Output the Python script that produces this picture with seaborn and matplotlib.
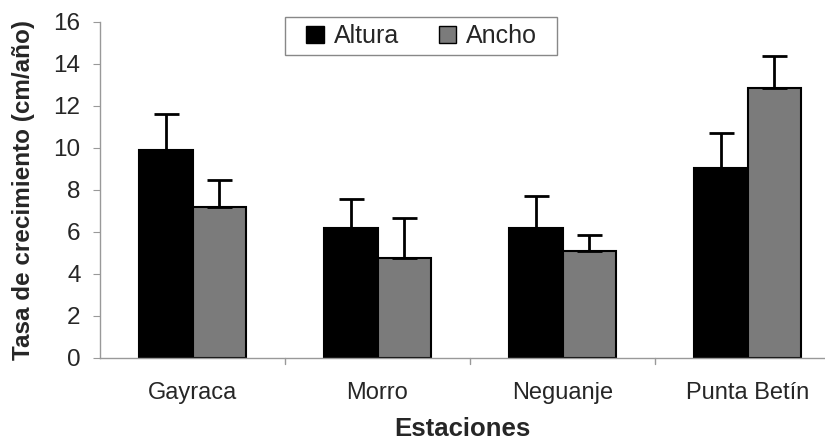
import matplotlib
matplotlib.use("Agg")
import matplotlib.pyplot as plt
import seaborn as sns
import pandas as pd
from matplotlib.patches import Patch, Rectangle

estaciones = ["Gayraca", "Morro", "Neguanje", "Punta Betín"]
altura = [9.9, 6.2, 6.2, 9.05]
altura_err = [1.7, 1.35, 1.5, 1.65]
ancho = [7.2, 4.75, 5.1, 12.85]
ancho_err = [1.25, 1.9, 0.75, 1.5]
series = ["Altura", "Ancho"]
colores = ["#000000", "#7b7b7b"]

df = pd.DataFrame({
    "Estaciones": estaciones * 2,
    "Serie": ["Altura"] * 4 + ["Ancho"] * 4,
    "Tasa": altura + ancho,
})
errs = {"Altura": altura_err, "Ancho": ancho_err}

sns.set_style("white")
plt.rcParams["font.family"] = ["Liberation Sans", "DejaVu Sans"]

W, H = 825, 441
fig = plt.figure(figsize=(W / 100, H / 100), dpi=100)
ax = fig.add_axes([100 / W, (H - 357.7) / H, 725 / W, (357.7 - 21.7) / H])

sns.barplot(data=df, x="Estaciones", y="Tasa", hue="Serie", order=estaciones,
            hue_order=series, palette=colores, width=0.58, gap=0,
            edgecolor="black", linewidth=1.5, errorbar=None, ax=ax, legend=False)

for cont, s in zip(ax.containers, series):
    xs = [p.get_x() + p.get_width() / 2 for p in cont.patches]
    ys = [p.get_height() for p in cont.patches]
    ax.errorbar(xs, ys, yerr=[[0] * len(ys), errs[s]], fmt="none", ecolor="black",
                elinewidth=2, capsize=9, capthick=2, zorder=1)

ax.set_ylim(0, 16)
ax.set_yticks(range(0, 17, 2))
ax.set_xlim(-0.5, 3.5 - 15 / 185)
ax.set_xticks(range(4))
ax.set_xticklabels(estaciones)
for xb in [0.5, 1.5, 2.5]:
    ax.plot([xb, xb], [0, -0.3], color="#999999", lw=1, clip_on=False)

for sp in ["top", "right"]:
    ax.spines[sp].set_visible(False)
for sp in ["left", "bottom"]:
    ax.spines[sp].set_color("#999999")
    ax.spines[sp].set_linewidth(1)
ax.tick_params(axis="y", left=True, length=5, color="#999999", labelsize=17.5, pad=9)
ax.tick_params(axis="x", bottom=False, labelsize=17, pad=14)

ax.set_ylabel("Tasa de crecimiento (cm/año)", fontsize=17.5, fontweight="bold", labelpad=13)
ax.set_xlabel("Estaciones", fontsize=18.5, fontweight="bold", labelpad=9)

handles = [Patch(facecolor=c, edgecolor="black", label=s) for c, s in zip(colores, series)]
leg = fig.legend(handles=handles, loc="center left", bbox_to_anchor=(306 / W, 1 - 36 / H),
                 ncol=2, fontsize=18, frameon=False,
                 handlelength=0.7, handleheight=0.7, handletextpad=0.4, columnspacing=1.6,
                 borderpad=0, borderaxespad=0)
fig.patches.append(Rectangle((285 / W, 1 - 55 / H), 272 / W, 38 / H, transform=fig.transFigure,
                             facecolor="white", edgecolor="#888888", linewidth=1, zorder=0))

fig.savefig("out.png", dpi=100)
